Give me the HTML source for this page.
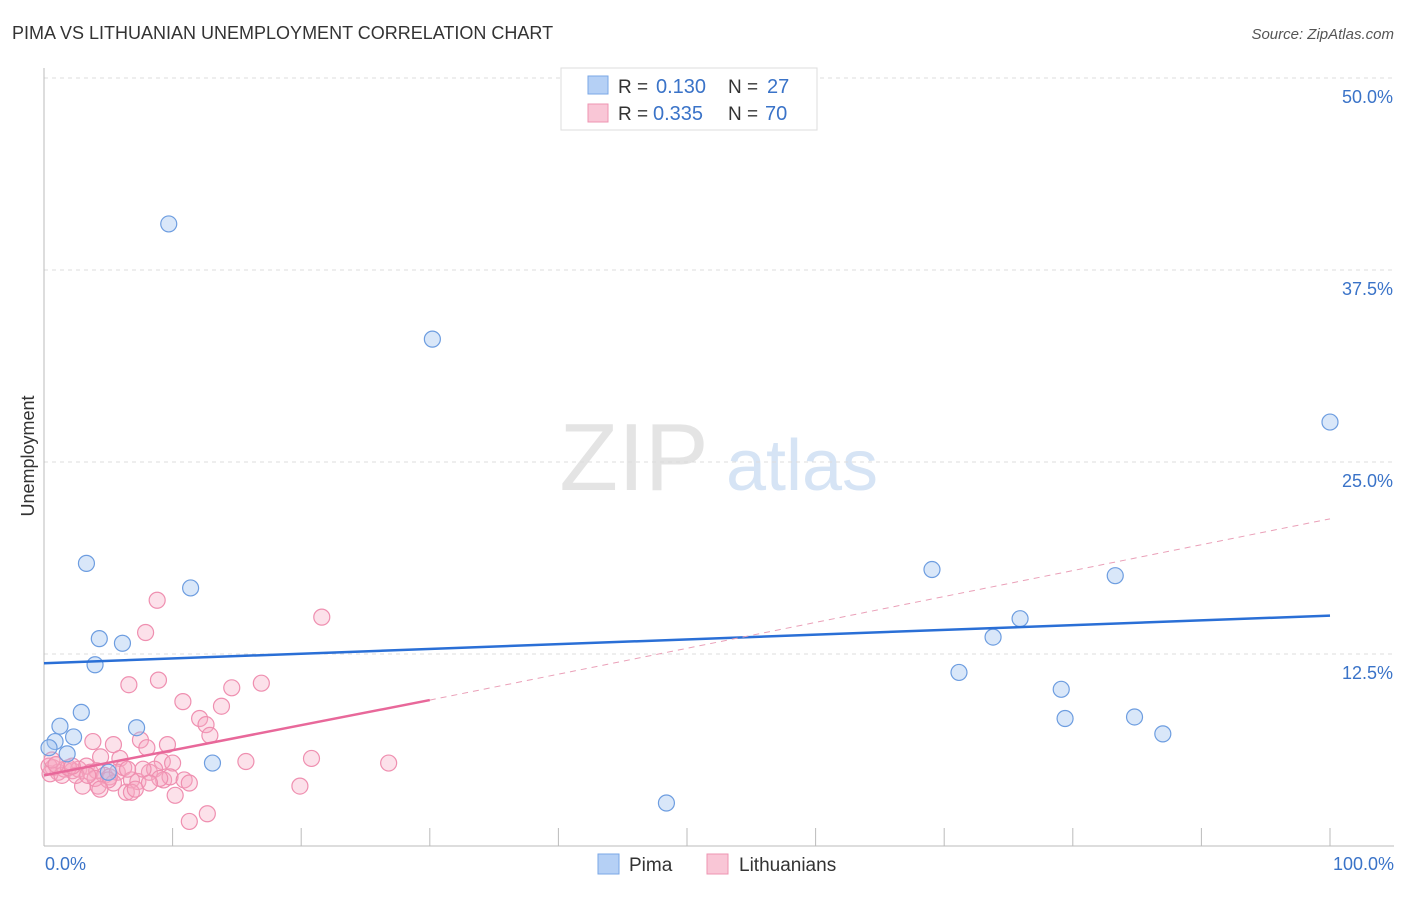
<!DOCTYPE html>
<html><head><meta charset="utf-8"><style>
body{margin:0;background:#fff;font-family:"Liberation Sans",sans-serif}
svg text{font-family:"Liberation Sans",sans-serif}
</style></head><body>
<svg width="1406" height="892" xmlns="http://www.w3.org/2000/svg">
<text x="12" y="39" font-size="18" fill="#333">PIMA VS LITHUANIAN UNEMPLOYMENT CORRELATION CHART</text>
<text x="1394" y="39" font-size="15" fill="#555" font-style="italic" text-anchor="end">Source: ZipAtlas.com</text>
<text x="634" y="490" font-size="96" fill="#e4e4e4" font-family="Liberation Serif" text-anchor="middle">ZIP</text>
<text x="802" y="490" font-size="72" fill="#d6e4f5" text-anchor="middle">atlas</text>
<g id="grid"></g>
<g id="axes"></g>
<g id="marks"></g>
<text x="34" y="456" font-size="18" fill="#333" text-anchor="middle" transform="rotate(-90 34 456)">Unemployment</text>
<text x="45" y="870" font-size="18" fill="#3a73c8">0.0%</text>
<text x="1394" y="870" font-size="18" fill="#3a73c8" text-anchor="end">100.0%</text>
<g>
<rect x="561" y="68" width="256" height="62" fill="#fff" stroke="#ddd"/>
<rect x="588" y="76" width="20" height="18" fill="#b5d0f5" stroke="#7aa7e6"/>
<rect x="588" y="104" width="20" height="18" fill="#f9c6d6" stroke="#ee94b2"/>
<text x="618" y="93" font-size="19" fill="#333">R =</text>
<text x="656" y="93" font-size="20" fill="#3a73c8">0.130</text>
<text x="728" y="93" font-size="19" fill="#333">N =</text>
<text x="767" y="93" font-size="20" fill="#3a73c8">27</text>
<text x="618" y="120" font-size="19" fill="#333">R =</text>
<text x="653" y="120" font-size="20" fill="#3a73c8">0.335</text>
<text x="728" y="120" font-size="19" fill="#333">N =</text>
<text x="765" y="120" font-size="20" fill="#3a73c8">70</text>
</g>
<g>
<rect x="598" y="854" width="21" height="20" fill="#b5d0f5" stroke="#7aa7e6"/>
<text x="629" y="871" font-size="19" fill="#333">Pima</text>
<rect x="707" y="854" width="21" height="20" fill="#f9c6d6" stroke="#ee94b2"/>
<text x="739" y="871" font-size="19" fill="#333">Lithuanians</text>
</g>
</svg>
<script>
const yTicks=[12.5,25,37.5,50];
const yTickLabels=["12.5%","25.0%","37.5%","50.0%"];
const pimaX=[9.7,30.2,100,3.3,11.4,4.3,6.1,3.97,2.9,1.24,7.2,2.3,0.86,0.39,1.8,13.1,5,48.4,69.05,83.3,75.9,73.8,71.15,79.1,79.4,84.8,87];
const pimaY=[40.5,33,27.6,18.4,16.8,13.5,13.2,11.8,8.7,7.8,7.7,7.1,6.8,6.4,6,5.4,4.8,2.8,18,17.6,14.8,13.6,11.3,10.2,8.3,8.4,7.3];
const lithX=[8.8,21.6,7.9,6.6,8.9,14.6,16.9,10.8,13.8,12.1,12.6,12.9,3.8,5.4,7.5,9.6,8,5.9,4.4,9.2,10,15.7,20.8,26.8,0.7,1.1,1.6,2.2,2.7,3.3,3.6,4.1,4.7,5.1,5.7,6.2,6.8,7.3,8.2,8.6,9.3,9.8,10.9,11.3,5.4,4.2,3,6.4,6.8,10.2,19.9,11.3,12.7,0.47,0.39,1.4,1.9,2.5,0.62,5,7.1,7.7,3.97,3.4,9,0.93,2.2,4.35,6.5,8.2];
const lithY=[16,14.9,13.9,10.5,10.8,10.3,10.6,9.4,9.1,8.3,7.9,7.2,6.8,6.6,6.9,6.6,6.4,5.7,5.8,5.5,5.4,5.5,5.7,5.4,5.1,4.8,5,4.9,5,5.2,4.8,4.9,4.6,4.5,4.8,5.1,4.3,4.2,4.8,5,4.3,4.5,4.3,4.1,4.1,3.9,3.9,3.5,3.5,3.3,3.9,1.6,2.1,4.7,5.2,4.6,5.1,4.6,5.6,4.3,3.7,5,4.4,4.6,4.4,5.3,5.2,3.7,5,4.1];
const pimaLine=[0,11.9,100,15];
const lithLine=[0,4.6,30,9.5,100,21.3];
const X=v=>44+v*12.86, Y=v=>846-v*15.36;
const NS="http://www.w3.org/2000/svg";
function mk(t,a,p){const e=document.createElementNS(NS,t);for(const k in a)e.setAttribute(k,a[k]);document.getElementById(p).appendChild(e);return e;}
yTicks.forEach((t,i)=>{
 const g=mk('line',{x1:44,x2:1394,y1:Y(t),y2:Y(t),stroke:'#ddd','stroke-dasharray':'4,4'},'grid');
 
 
 const l=mk('text',{x:1393,y:Y(t)+25,'font-size':18,fill:'#3a73c8','text-anchor':'end'},'grid');
 l.textContent=yTickLabels[i];
 
 
});
const ax=mk('line',{x1:44,x2:1394,y1:846,y2:846,stroke:'#bbb'},'axes');


const ay=mk('line',{x1:44,x2:44,y1:68,y2:846,stroke:'#bbb'},'axes');


for(let i=0;i<=10;i++){const t=mk('line',{x1:X(i*10),x2:X(i*10),y1:828,y2:846,stroke:'#bbb'},'axes');
 
 }
lithX.forEach((v,i)=>{const c=mk('circle',{cx:X(v),cy:Y(lithY[i]),r:8,fill:'rgba(246,170,196,0.35)',stroke:'#ef8fb0','stroke-width':1.2},'marks');
 
 });
pimaX.forEach((v,i)=>{const c=mk('circle',{cx:X(v),cy:Y(pimaY[i]),r:8,fill:'rgba(160,195,240,0.4)',stroke:'#6d9de0','stroke-width':1.2},'marks');
 
 });
const pl=mk('line',{x1:X(pimaLine[0]),y1:Y(pimaLine[1]),x2:X(pimaLine[2]),y2:Y(pimaLine[3]),stroke:'#2a6fd6','stroke-width':2.5},'marks');


const ld=mk('line',{x1:X(lithLine[2]),y1:Y(lithLine[3]),x2:X(lithLine[4]),y2:Y(lithLine[5]),stroke:'#eaa0b8','stroke-width':1,'stroke-dasharray':'6,5'},'marks');


const ls=mk('line',{x1:X(lithLine[0]),y1:Y(lithLine[1]),x2:X(lithLine[2]),y2:Y(lithLine[3]),stroke:'#e8689a','stroke-width':2.5},'marks');


</script>
</body></html>
